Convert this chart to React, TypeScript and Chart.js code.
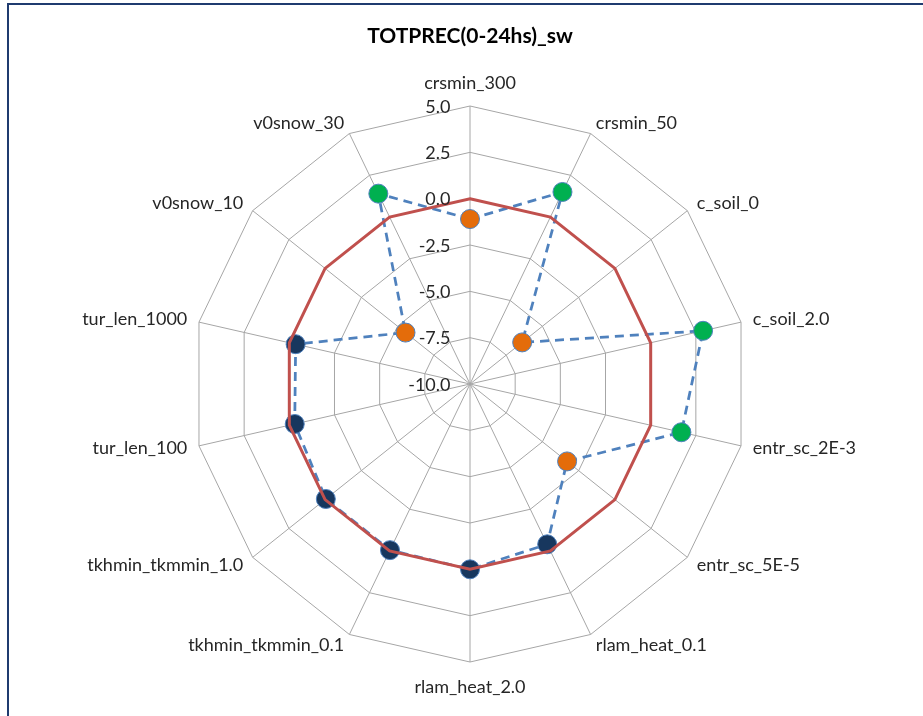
import React, { useEffect, useRef } from "react";
import { Chart, registerables } from "chart.js";

Chart.register(...registerables);

const TITLE = "TOTPREC(0-24hs)_sw";

const CATEGORIES = [
  "crsmin_300",
  "crsmin_50",
  "c_soil_0",
  "c_soil_2.0",
  "entr_sc_2E-3",
  "entr_sc_5E-5",
  "rlam_heat_0.1",
  "rlam_heat_2.0",
  "tkhmin_tkmmin_0.1",
  "tkhmin_tkmmin_1.0",
  "tur_len_100",
  "tur_len_1000",
  "v0snow_10",
  "v0snow_30",
];

const REFERENCE_VALUES = [0, 0, 0, 0, 0, 0, 0, 0, 0, 0, 0, 0, 0, 0];

const SENSITIVITY_VALUES = [
  -1.1, 1.5, -6.4, 2.9, 1.7, -3.3, -0.4, 0.0, -0.05, -0.05, -0.3, -0.35, -5.55, 1.4,
];

const ORANGE = "#E46C0A";
const GREEN = "#00B050";
const NAVY = "#17375E";

const POINT_COLORS = [
  ORANGE, GREEN, ORANGE, GREEN, GREEN, ORANGE, NAVY,
  NAVY, NAVY, NAVY, NAVY, NAVY, ORANGE, GREEN,
];

const TICK_VALUES = [-10, -7.5, -5, -2.5, 0, 2.5, 5];
const TICK_LABELS = ["-10.0", "-7.5", "-5.0", "-2.5", "0.0", "2.5", "5.0"];

const FONT = "Lato, 'Open Sans', sans-serif";
const TEXT_COLOR = "#262626";

const overlayPlugin = {
  id: "overlayText",
  afterDraw(chart: any) {
    const ctx = chart.ctx as CanvasRenderingContext2D;
    const s = chart.scales.r;
    ctx.save();
    ctx.fillStyle = "#000";
    ctx.font = `bold 21px ${FONT}`;
    ctx.textAlign = "center";
    ctx.textBaseline = "middle";
    ctx.fillText(TITLE, s.xCenter, 36);

    ctx.fillStyle = TEXT_COLOR;
    ctx.font = `18px ${FONT}`;
    ctx.textAlign = "right";
    ctx.textBaseline = "middle";
    TICK_VALUES.forEach((v, i) => {
      const d = s.getDistanceFromCenterForValue(v);
      ctx.fillText(TICK_LABELS[i], s.xCenter - 19.5, s.yCenter - d + 1);
    });

    const outer = s.getDistanceFromCenterForValue(s.max) + 12;
    CATEGORIES.forEach((label, i) => {
      const p = s.getPointPosition(i, outer);
      const a = s.getIndexAngle(i);
      const sx = Math.sin(a);
      const cy = Math.cos(a);
      let y = p.y;
      if (Math.abs(sx) < 0.01) {
        ctx.textAlign = "center";
        y = cy > 0 ? p.y - 11 : p.y + 13;
      } else {
        ctx.textAlign = sx > 0 ? "left" : "right";
      }
      ctx.textBaseline = "middle";
      ctx.fillText(label, p.x, y);
    });
    ctx.restore();
  },
};

export default function App() {
  const canvasRef = useRef<HTMLCanvasElement | null>(null);

  useEffect(() => {
    if (!canvasRef.current) return;
    const chart = new Chart(canvasRef.current, {
      type: "radar",
      data: {
        labels: CATEGORIES,
        datasets: [
          {
            label: "reference",
            data: REFERENCE_VALUES,
            borderColor: "#C0504D",
            borderWidth: 3,
            pointRadius: 0,
            pointHoverRadius: 0,
            fill: false,
          },
          {
            label: "sensitivity",
            data: SENSITIVITY_VALUES,
            borderColor: "#4F81BD",
            borderWidth: 2.75,
            borderDash: [9, 6],
            pointRadius: 9.5,
            pointHoverRadius: 9.5,
            pointBackgroundColor: POINT_COLORS,
            pointBorderColor: "#4F81BD",
            pointBorderWidth: 1,
            fill: false,
          },
        ],
      },
      options: {
        responsive: false,
        animation: false,
        devicePixelRatio: 1,
        layout: { padding: { left: 192, right: 175, top: 106, bottom: 54 } },
        plugins: {
          legend: { display: false },
          tooltip: { enabled: false },
          title: { display: false },
        },
        elements: { line: { tension: 0 } },
        scales: {
          r: {
            min: -10,
            max: 5,
            ticks: { stepSize: 2.5, display: false },
            grid: { color: "#A6A6A6", lineWidth: 1 },
            angleLines: { color: "#A6A6A6", lineWidth: 1 },
            pointLabels: { display: false },
          },
        },
      },
      plugins: [overlayPlugin],
    });
    return () => chart.destroy();
  }, []);

  return (
    <div style={{ position: "fixed", left: 0, top: 0, width: 923, height: 716, overflow: "hidden", background: "#fff" }}>
      <div
        style={{
          position: "absolute",
          left: 7,
          top: 3,
          width: 2000,
          height: 2000,
          borderLeft: "2px solid #1F3B6F",
          borderTop: "2px solid #1F3B6F",
        }}
      />
      <canvas
        ref={canvasRef}
        width={923}
        height={716}
        style={{ position: "absolute", left: 0, top: 0 }}
      />
    </div>
  );
}
